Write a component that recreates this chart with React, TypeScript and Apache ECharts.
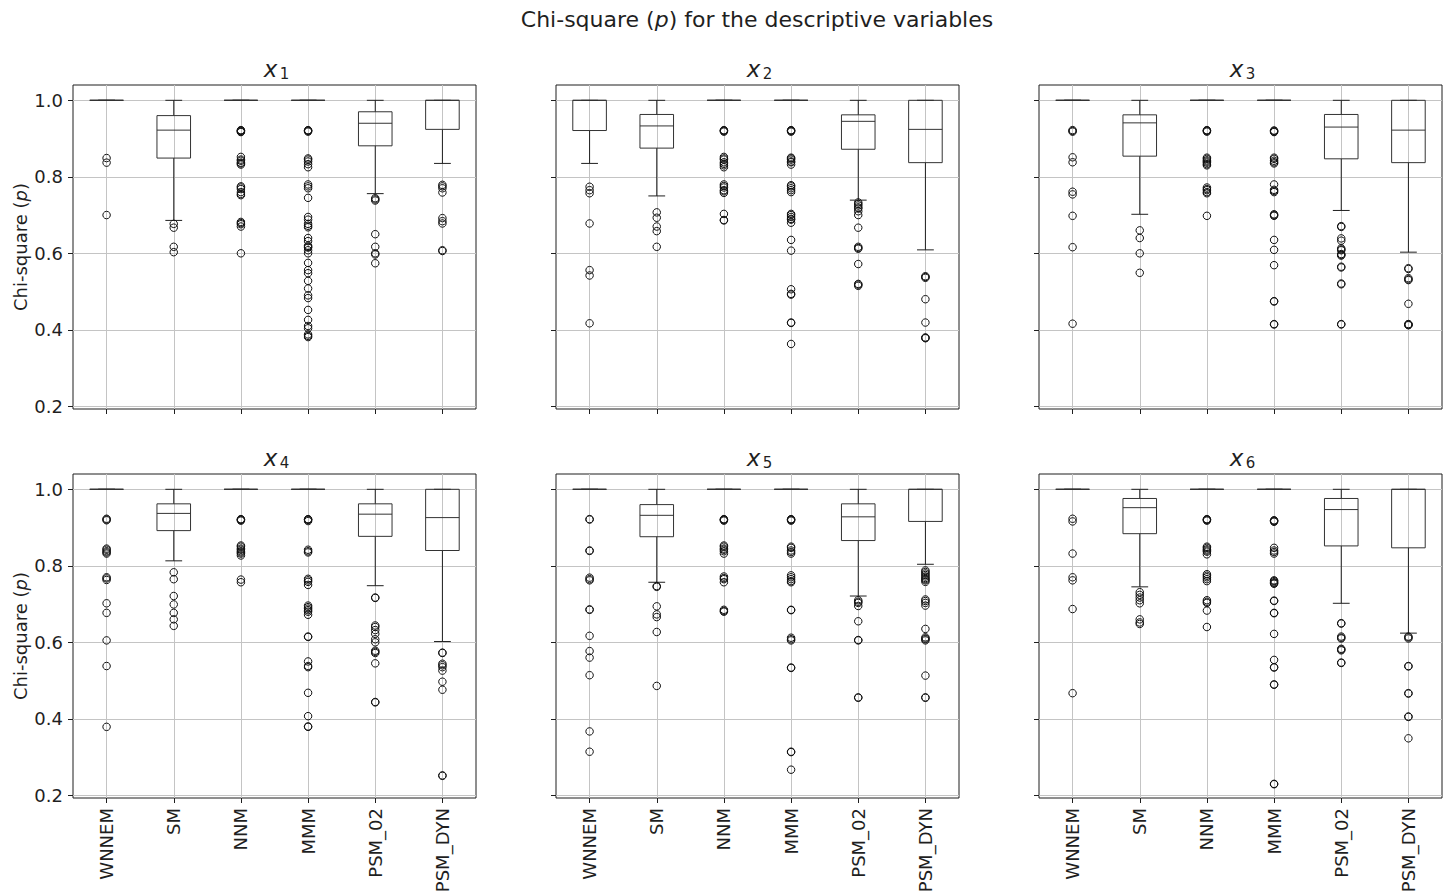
import React, { useEffect, useRef } from "react";
import * as echarts from "echarts";

const FONT = "'DejaVu Sans', 'Noto Sans', sans-serif";
const INK = "#1f1f1f";
const BOX = "#333333";
const GRIDC = "#c4c4c4";

const categories = ["WNNEM", "SM", "NNM", "MMM", "PSM_02", "PSM_DYN"];
const yTicks = [0.2, 0.4, 0.6, 0.8, 1.0];
const subscripts = ["1", "2", "3", "4", "5", "6"];

// [lower whisker, Q1, median, Q3, upper whisker] per category
const boxX1 = [
  [1, 1, 1, 1, 1],
  [0.686, 0.849, 0.922, 0.96, 1],
  [1, 1, 1, 1, 1],
  [1, 1, 1, 1, 1],
  [0.756, 0.881, 0.94, 0.97, 1],
  [0.835, 0.924, 1, 1, 1],
];
const boxX2 = [
  [0.835, 0.921, 1, 1, 1],
  [0.75, 0.875, 0.933, 0.963, 1],
  [1, 1, 1, 1, 1],
  [1, 1, 1, 1, 1],
  [0.739, 0.872, 0.945, 0.962, 1],
  [0.609, 0.837, 0.924, 1, 1],
];
const boxX3 = [
  [1, 1, 1, 1, 1],
  [0.702, 0.854, 0.941, 0.962, 1],
  [1, 1, 1, 1, 1],
  [1, 1, 1, 1, 1],
  [0.712, 0.847, 0.93, 0.963, 1],
  [0.603, 0.837, 0.922, 1, 1],
];
const boxX4 = [
  [1, 1, 1, 1, 1],
  [0.813, 0.892, 0.937, 0.962, 1],
  [1, 1, 1, 1, 1],
  [1, 1, 1, 1, 1],
  [0.748, 0.877, 0.935, 0.962, 1],
  [0.602, 0.84, 0.926, 1, 1],
];
const boxX5 = [
  [1, 1, 1, 1, 1],
  [0.757, 0.876, 0.932, 0.96, 1],
  [1, 1, 1, 1, 1],
  [1, 1, 1, 1, 1],
  [0.721, 0.866, 0.928, 0.962, 1],
  [0.804, 0.916, 1, 1, 1],
];
const boxX6 = [
  [1, 1, 1, 1, 1],
  [0.745, 0.884, 0.952, 0.976, 1],
  [1, 1, 1, 1, 1],
  [1, 1, 1, 1, 1],
  [0.702, 0.852, 0.947, 0.976, 1],
  [0.624, 0.847, 1, 1, 1],
];

// outliers per category (repeated values where the reference rings look heavy)
const outX1 = [
  [0.849, 0.837, 0.7],
  [0.677, 0.667, 0.617, 0.603],
  [0.922, 0.921, 0.92, 0.918, 0.917, 0.852, 0.845, 0.842, 0.837, 0.835, 0.832, 0.775, 0.772, 0.768, 0.76, 0.755,
    0.752, 0.682, 0.679, 0.676, 0.67, 0.6],
  [0.922, 0.921, 0.92, 0.918, 0.848, 0.845, 0.84, 0.833, 0.825, 0.78, 0.775, 0.77, 0.745, 0.695, 0.688, 0.677,
    0.672, 0.668, 0.64, 0.632, 0.62, 0.617, 0.615, 0.608, 0.6, 0.575, 0.556, 0.548, 0.528, 0.508, 0.49, 0.483,
    0.452, 0.426, 0.41, 0.404, 0.388, 0.384, 0.381],
  [0.744, 0.741, 0.738, 0.65, 0.617, 0.6, 0.597, 0.574],
  [0.779, 0.775, 0.77, 0.759, 0.692, 0.684, 0.678, 0.608, 0.606],
];
const outX2 = [
  [0.774, 0.765, 0.757, 0.678, 0.556, 0.542, 0.417],
  [0.707, 0.693, 0.67, 0.658, 0.617],
  [0.922, 0.921, 0.92, 0.918, 0.852, 0.848, 0.845, 0.838, 0.834, 0.83, 0.825, 0.78, 0.776, 0.772, 0.765, 0.762,
    0.758, 0.703, 0.687, 0.686],
  [0.922, 0.921, 0.92, 0.918, 0.85, 0.848, 0.845, 0.84, 0.838, 0.832, 0.778, 0.775, 0.77, 0.765, 0.76, 0.703,
    0.7, 0.695, 0.69, 0.688, 0.68, 0.635, 0.607, 0.506, 0.494, 0.492, 0.419, 0.418, 0.363],
  [0.733, 0.729, 0.725, 0.72, 0.717, 0.71, 0.7, 0.667, 0.617, 0.614, 0.612, 0.572, 0.52, 0.518, 0.515],
  [0.54, 0.538, 0.536, 0.48, 0.419, 0.38, 0.379, 0.378],
];
const outX3 = [
  [0.922, 0.92, 0.918, 0.851, 0.838, 0.761, 0.754, 0.698, 0.616, 0.416],
  [0.66, 0.64, 0.6, 0.549],
  [0.922, 0.921, 0.92, 0.918, 0.85, 0.847, 0.843, 0.84, 0.837, 0.833, 0.83, 0.772, 0.768, 0.765, 0.76, 0.757,
    0.698],
  [0.921, 0.92, 0.918, 0.917, 0.85, 0.847, 0.842, 0.838, 0.835, 0.78, 0.766, 0.763, 0.76, 0.702, 0.7, 0.698,
    0.635, 0.609, 0.569, 0.475, 0.474, 0.415, 0.414],
  [0.671, 0.669, 0.639, 0.633, 0.613, 0.61, 0.608, 0.598, 0.596, 0.594, 0.565, 0.563, 0.521, 0.519, 0.415, 0.414],
  [0.561, 0.559, 0.535, 0.532, 0.53, 0.468, 0.415, 0.414, 0.413, 0.412],
];
const outX4 = [
  [0.923, 0.921, 0.919, 0.845, 0.842, 0.838, 0.835, 0.832, 0.77, 0.767, 0.763, 0.702, 0.677, 0.605, 0.538, 0.379],
  [0.783, 0.765, 0.721, 0.699, 0.677, 0.66, 0.643],
  [0.922, 0.921, 0.92, 0.918, 0.853, 0.85, 0.845, 0.842, 0.838, 0.835, 0.832, 0.827, 0.764, 0.757],
  [0.922, 0.921, 0.92, 0.917, 0.842, 0.838, 0.835, 0.766, 0.762, 0.758, 0.75, 0.696, 0.692, 0.688, 0.684, 0.68,
    0.672, 0.615, 0.614, 0.55, 0.538, 0.535, 0.468, 0.407, 0.38, 0.379],
  [0.717, 0.716, 0.644, 0.64, 0.632, 0.622, 0.608, 0.6, 0.578, 0.575, 0.572, 0.545, 0.444, 0.443],
  [0.573, 0.572, 0.544, 0.54, 0.535, 0.526, 0.497, 0.476, 0.252, 0.251],
];
const outX5 = [
  [0.922, 0.921, 0.84, 0.839, 0.769, 0.765, 0.762, 0.686, 0.685, 0.617, 0.577, 0.56, 0.514, 0.367, 0.314],
  [0.747, 0.745, 0.694, 0.673, 0.666, 0.627, 0.486],
  [0.922, 0.921, 0.92, 0.918, 0.853, 0.85, 0.845, 0.842, 0.838, 0.832, 0.772, 0.768, 0.765, 0.757, 0.685, 0.682,
    0.68],
  [0.922, 0.921, 0.92, 0.918, 0.85, 0.847, 0.84, 0.836, 0.832, 0.775, 0.77, 0.765, 0.76, 0.757, 0.685, 0.684,
    0.612, 0.608, 0.605, 0.534, 0.533, 0.314, 0.313, 0.267],
  [0.71, 0.706, 0.703, 0.695, 0.655, 0.606, 0.605, 0.456, 0.455],
  [0.788, 0.784, 0.78, 0.776, 0.772, 0.768, 0.765, 0.762, 0.758, 0.712, 0.708, 0.703, 0.696, 0.635, 0.613, 0.61,
    0.608, 0.605, 0.513, 0.456, 0.455],
];
const outX6 = [
  [0.923, 0.916, 0.832, 0.77, 0.762, 0.687, 0.467],
  [0.731, 0.724, 0.717, 0.71, 0.702, 0.66, 0.652, 0.648],
  [0.922, 0.921, 0.92, 0.918, 0.85, 0.847, 0.843, 0.84, 0.837, 0.83, 0.778, 0.774, 0.77, 0.765, 0.76, 0.71,
    0.706, 0.703, 0.683, 0.64],
  [0.919, 0.918, 0.917, 0.915, 0.847, 0.84, 0.836, 0.832, 0.762, 0.76, 0.757, 0.755, 0.753, 0.709, 0.708, 0.677,
    0.676, 0.622, 0.554, 0.535, 0.534, 0.49, 0.489, 0.23, 0.229],
  [0.65, 0.649, 0.615, 0.612, 0.61, 0.583, 0.581, 0.579, 0.547, 0.546],
  [0.615, 0.613, 0.61, 0.538, 0.537, 0.467, 0.466, 0.406, 0.405, 0.349],
];

const boxes = [boxX1, boxX2, boxX3, boxX4, boxX5, boxX6];
const outliers = [outX1, outX2, outX3, outX4, outX5, outX6];

const COL_LEFT = [73, 556, 1039];
const ROW_TOP = [85, 474];
const GW = 403;
const GH = 324;
const Y_MIN = 0.193;
const Y_MAX = 1.04;

function renderBox(params: any, api: any) {
  const c = api.value(0);
  const lo = api.coord([c, api.value(1)]);
  const q1 = api.coord([c, api.value(2)]);
  const md = api.coord([c, api.value(3)]);
  const q3 = api.coord([c, api.value(4)]);
  const hi = api.coord([c, api.value(5)]);
  const band = api.size([1, 0])[0];
  const bw = band * 0.5;
  const cw = band * 0.25;
  const x = md[0];
  const ws = { stroke: INK, lineWidth: 1, fill: null };
  const bs = { stroke: BOX, lineWidth: 1, fill: null };
  return {
    type: "group",
    children: [
      { type: "line", shape: { x1: x, y1: q1[1], x2: x, y2: lo[1] }, style: ws },
      { type: "line", shape: { x1: x, y1: q3[1], x2: x, y2: hi[1] }, style: ws },
      { type: "line", shape: { x1: x - cw / 2, y1: lo[1], x2: x + cw / 2, y2: lo[1] }, style: ws },
      { type: "line", shape: { x1: x - cw / 2, y1: hi[1], x2: x + cw / 2, y2: hi[1] }, style: ws },
      { type: "rect", shape: { x: x - bw / 2, y: q3[1], width: bw, height: Math.max(q1[1] - q3[1], 0.01) }, style: bs },
      { type: "line", shape: { x1: x - bw / 2, y1: md[1], x2: x + bw / 2, y2: md[1] }, style: bs },
    ],
  };
}

function buildOption() {
  const grids: any[] = [];
  const xAxes: any[] = [];
  const yAxes: any[] = [];
  const series: any[] = [];
  const graphics: any[] = [];

  for (let i = 0; i < 6; i++) {
    const col = i % 3;
    const row = Math.floor(i / 3);
    grids.push({
      left: COL_LEFT[col],
      top: ROW_TOP[row],
      width: GW,
      height: GH,
      show: true,
      borderColor: INK,
      borderWidth: 1,
      backgroundColor: "transparent",
      containLabel: false,
      outerBoundsMode: "none",
    });
    xAxes.push({
      gridIndex: i,
      type: "category",
      data: categories,
      boundaryGap: true,
      axisLine: { show: false },
      axisTick: { show: true, alignWithLabel: true, interval: 0, length: 5, lineStyle: { color: INK, width: 1 } },
      axisLabel: {
        show: row === 1,
        interval: 0,
        rotate: 90,
        margin: 10,
        fontSize: 18,
        fontFamily: FONT,
        color: INK,
      },
      splitLine: { show: true, interval: 0, alignWithLabel: true, lineStyle: { color: GRIDC, width: 1 } },
    });
    yAxes.push({
      gridIndex: i,
      type: "value",
      min: Y_MIN,
      max: Y_MAX,
      axisLine: { show: false },
      axisTick: { show: true, length: 5, customValues: yTicks, lineStyle: { color: INK, width: 1 } },
      axisLabel: {
        show: col === 0,
        customValues: yTicks,
        formatter: (v: number) => v.toFixed(1),
        margin: 10,
        fontSize: 18,
        fontFamily: FONT,
        color: INK,
      },
      splitLine: { show: true, customValues: yTicks, lineStyle: { color: GRIDC, width: 1 } },
      name: col === 0 ? "Chi-square ({i|p})" : "",
      nameLocation: "middle",
      nameRotate: 90,
      nameGap: 44,
      nameTextStyle: {
        fontSize: 18,
        fontFamily: FONT,
        color: INK,
        rich: { i: { fontSize: 18, fontFamily: FONT, fontStyle: "italic", color: INK } },
      },
    });
    series.push({
      type: "custom",
      xAxisIndex: i,
      yAxisIndex: i,
      data: boxes[i].map((b, k) => [k, ...b]),
      encode: { x: 0, y: [1, 2, 3, 4, 5] },
      renderItem: renderBox,
      silent: true,
      z: 3,
    });
    const pts: any[] = [];
    outliers[i].forEach((vals, k) => vals.forEach((v) => pts.push([k, v])));
    series.push({
      type: "scatter",
      xAxisIndex: i,
      yAxisIndex: i,
      data: pts,
      symbol: "circle",
      symbolSize: 7.5,
      silent: true,
      itemStyle: { color: "rgba(0,0,0,0)", borderColor: "#111111", borderWidth: 1, opacity: 1 },
      z: 4,
    });
    const cx = COL_LEFT[col] + GW / 2;
    const ty = ROW_TOP[row] - 16;
    graphics.push({
      type: "text",
      x: cx - 4,
      y: ty,
      style: {
        text: "x",
        font: `italic 23px ${FONT}`,
        fill: INK,
        align: "center",
        verticalAlign: "middle",
      },
    });
    graphics.push({
      type: "text",
      x: cx + 10,
      y: ty + 5,
      style: {
        text: subscripts[i],
        font: `15px ${FONT}`,
        fill: INK,
        align: "center",
        verticalAlign: "middle",
      },
    });
  }

  graphics.push({
    type: "text",
    x: 757,
    y: 19,
    style: {
      text: "Chi-square ({i|p}) for the descriptive variables",
      font: `22px ${FONT}`,
      fill: INK,
      align: "center",
      verticalAlign: "middle",
      rich: { i: { fontSize: 22, fontFamily: FONT, fontStyle: "italic", fill: INK } },
    },
  });

  return {
    animation: false,
    backgroundColor: "#ffffff",
    textStyle: { fontFamily: FONT },
    grid: grids,
    xAxis: xAxes,
    yAxis: yAxes,
    series,
    graphic: graphics,
  };
}

export default function App() {
  const ref = useRef<HTMLDivElement>(null);
  useEffect(() => {
    document.body.style.margin = "0";
    const chart = echarts.init(ref.current as HTMLDivElement, null, { renderer: "svg" });
    chart.setOption(buildOption() as any);
    return () => chart.dispose();
  }, []);
  return <div ref={ref} style={{ width: 1447, height: 894 }} />;
}
